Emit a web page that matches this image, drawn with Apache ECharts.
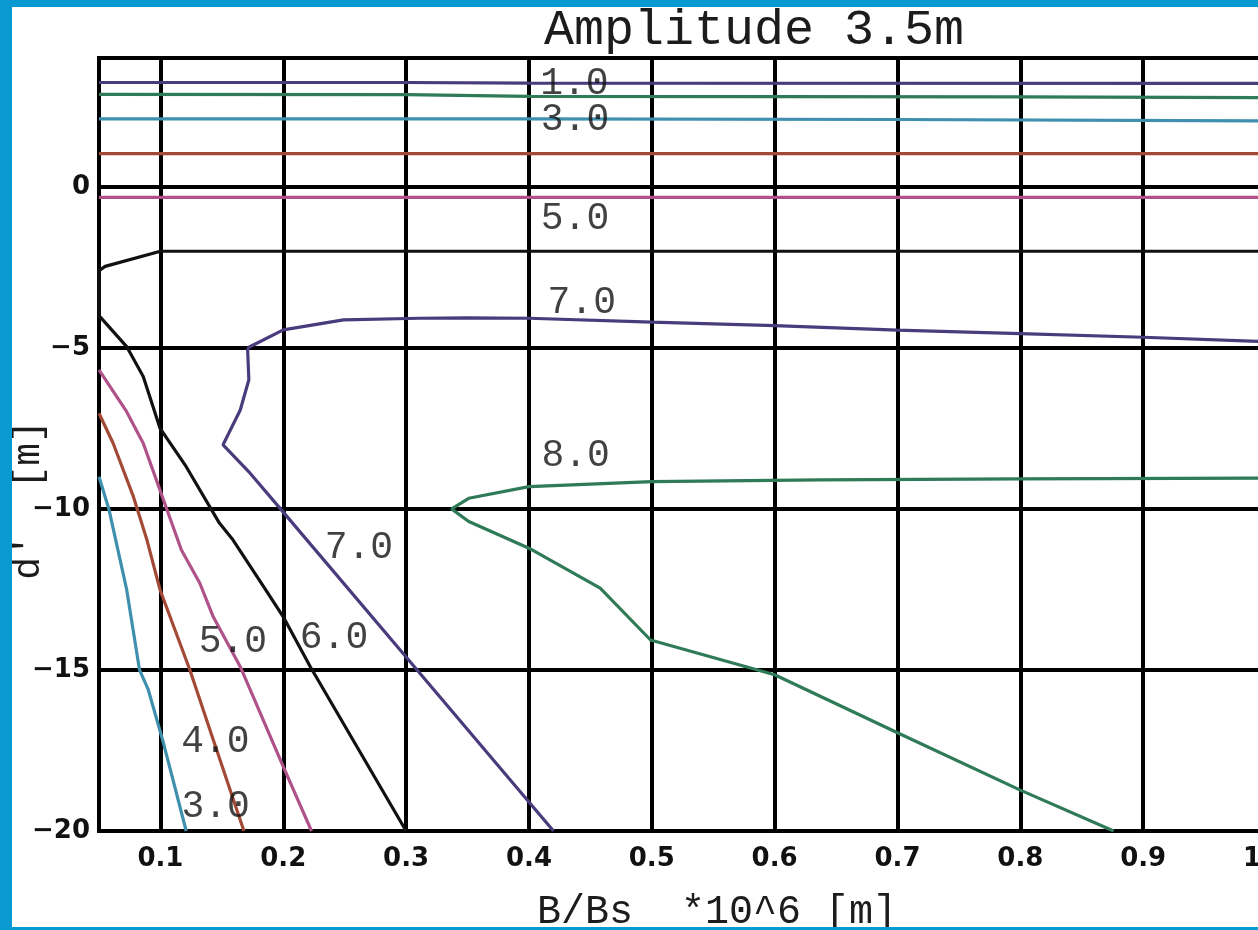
<!DOCTYPE html>
<html>
<head>
<meta charset="utf-8">
<script src="https://cdn.jsdelivr.net/npm/echarts@6/dist/echarts.min.js"></script>
<style>
  html, body { margin: 0; padding: 0; width: 1258px; height: 930px; overflow: hidden; background: #0a9ad2; }
  #chart { position: absolute; left: 12px; top: 7px; width: 1246px; height: 920px; background: #ffffff; }
</style>
</head>
<body>
<div id="chart"></div>
<script>
// Axis ticks
const xTicks = [0.1, 0.2, 0.3, 0.4, 0.5, 0.6, 0.7, 0.8, 0.9, 1.0];
const yTicks = [-20, -15, -10, -5, 0];

// Contour lines, [B/Bs, d'] pairs, one array per branch
const c3Upper = [[0.05, 2.11], [0.4, 2.11], [0.7, 2.09], [1.0, 2.05]];
const c3Lower = [[0.05, -9.0], [0.058, -10.0], [0.0725, -12.5], [0.083, -15.0], [0.09, -15.6], [0.102, -17.2], [0.121, -20.0]];

const c4Upper = [[0.05, 1.03], [1.0, 1.03]];
const c4Lower = [[0.05, -7.03], [0.0615, -7.96], [0.078, -9.62], [0.089, -10.96], [0.0996, -12.5], [0.124, -15.0], [0.143, -17.17], [0.168, -20.0]];

const c5Upper = [[0.05, -0.33], [1.0, -0.33]];
const c5Lower = [[0.05, -5.68], [0.0725, -6.98], [0.086, -7.96], [0.0996, -9.41], [0.117, -11.27], [0.132, -12.3], [0.143, -13.35], [0.165, -14.9], [0.2, -18.0], [0.223, -20.0]];

const c6Line = [[1.0, -2.0], [0.1, -2.0], [0.055, -2.47], [0.05, -2.6], [0.05, -4.0], [0.0725, -4.96], [0.086, -5.89], [0.0996, -7.49], [0.121, -8.69], [0.148, -10.44], [0.159, -10.96], [0.184, -12.41], [0.2, -13.35], [0.222, -14.9], [0.3, -20.0]];

const c7Upper = [[0.05, 3.24], [0.3, 3.24], [0.4, 3.22], [1.0, 3.21]];
const c7Lower = [[1.0, -4.81], [0.9, -4.67], [0.8, -4.56], [0.7, -4.45], [0.6, -4.31], [0.5, -4.2], [0.4, -4.08], [0.35, -4.07], [0.311, -4.08], [0.249, -4.13], [0.2, -4.44], [0.172, -4.98], [0.171, -5.06], [0.172, -5.99], [0.165, -6.93], [0.151, -8.01], [0.173, -8.89], [0.2, -10.1], [0.3, -14.6], [0.42, -20.0]];

const c8Upper = [[0.05, 2.87], [0.3, 2.86], [0.4, 2.81], [0.6, 2.80], [0.8, 2.79], [1.0, 2.77]];
const c8Lower = [[1.0, -9.04], [0.8, -9.07], [0.637, -9.1], [0.5, -9.15], [0.4, -9.31], [0.351, -9.67], [0.337, -10.0], [0.351, -10.39], [0.4, -11.22], [0.458, -12.46], [0.499, -14.07], [0.6, -15.15], [0.7, -16.95], [0.8, -18.73], [0.876, -20.0]];

// Contour level labels: [B/Bs, d', text]
const contourLabels = [
  [0.437, 3.18, '1.0'],
  [0.4375, 2.07, '3.0'],
  [0.4375, -0.99, '5.0'],
  [0.443, -3.6, '7.0'],
  [0.438, -8.35, '8.0'],
  [0.2616, -11.21, '7.0'],
  [0.2413, -14.0, '6.0'],
  [0.159, -14.12, '5.0'],
  [0.1448, -17.23, '4.0'],
  [0.145, -19.25, '3.0']
];

const colors = {
  c3: '#3f8fae',
  c4: '#a34a37',
  c5: '#b0528a',
  c6: '#111111',
  c7: '#4a3c7c',
  c8: '#2f7a57'
};

const branches = [
  ['3.0 upper', c3Upper, colors.c3],
  ['3.0', c3Lower, colors.c3],
  ['4.0 upper', c4Upper, colors.c4],
  ['4.0', c4Lower, colors.c4],
  ['5.0 upper', c5Upper, colors.c5],
  ['5.0', c5Lower, colors.c5],
  ['6.0', c6Line, colors.c6],
  ['7.0 upper', c7Upper, colors.c7],
  ['7.0', c7Lower, colors.c7],
  ['8.0 upper', c8Upper, colors.c8],
  ['8.0', c8Lower, colors.c8]
];

const monoFont = '"Liberation Mono", "DejaVu Sans Mono", monospace';
const tickFont = '"DejaVu Sans", "Liberation Sans", sans-serif';

const series = branches.map(([name, data, color]) => ({
  name: name,
  type: 'line',
  data: data,
  symbol: 'none',
  showSymbol: false,
  clip: true,
  z: 3,
  lineStyle: { color: color, width: 3.2 }
}));

series.push({
  name: 'levels',
  type: 'scatter',
  data: contourLabels,
  symbolSize: 1,
  silent: true,
  z: 5,
  itemStyle: { color: 'rgba(0,0,0,0)' },
  label: {
    show: true,
    position: 'inside',
    formatter: p => p.value[2],
    fontFamily: monoFont,
    fontSize: 38,
    color: '#111'
  }
});

const chart = echarts.init(document.getElementById('chart'), null, { renderer: 'canvas' });

chart.setOption({
  animation: false,
  backgroundColor: '#ffffff',
  grid: {
    left: 87, top: 51, width: 1167, height: 773,
    outerBoundsMode: 'none',
    containLabel: false,
    show: true, borderColor: '#000', borderWidth: 4, backgroundColor: 'transparent'
  },
  xAxis: {
    type: 'value',
    min: 0.05,
    max: 1.0,
    axisLine: { show: true, onZero: false, lineStyle: { color: '#000', width: 4 } },
    axisTick: { show: false, customValues: xTicks },
    axisLabel: {
      customValues: xTicks,
      formatter: v => v.toFixed(1),
      margin: 15,
      fontFamily: tickFont,
      fontWeight: 'bold',
      fontSize: 26,
      color: '#111'
    },
    splitLine: { show: true, lineStyle: { color: '#000', width: 4 } }
  },
  yAxis: {
    type: 'value',
    min: -20,
    max: 4,
    axisLine: { show: true, onZero: false, lineStyle: { color: '#000', width: 4 } },
    axisTick: { show: false, customValues: yTicks },
    axisLabel: {
      customValues: yTicks,
      formatter: v => String(v).replace('-', '\u2212'),
      margin: 9,
      fontFamily: tickFont,
      fontWeight: 'bold',
      fontSize: 26,
      color: '#111'
    },
    splitLine: { show: true, lineStyle: { color: '#000', width: 4 } }
  },
  graphic: [
    {
      type: 'text',
      x: 742, y: 24,
      silent: true,
      style: {
        text: 'Amplitude 3.5m',
        font: '50px ' + monoFont,
        fill: '#1c1c1c',
        align: 'center', verticalAlign: 'middle',
        textAlign: 'center', textVerticalAlign: 'middle'
      }
    },
    {
      type: 'text',
      x: 705, y: 905,
      silent: true,
      style: {
        text: 'B/Bs  *10^6 [m]',
        font: '40px ' + monoFont,
        fill: '#1c1c1c',
        align: 'center', verticalAlign: 'middle',
        textAlign: 'center', textVerticalAlign: 'middle'
      }
    },
    {
      type: 'text',
      x: 17, y: 493,
      rotation: Math.PI / 2,
      silent: true,
      style: {
        text: "d'  [m]",
        font: '38px ' + monoFont,
        fill: '#1c1c1c',
        align: 'center', verticalAlign: 'middle',
        textAlign: 'center', textVerticalAlign: 'middle'
      }
    }
  ],
  series: series
});
</script>
</body>
</html>
